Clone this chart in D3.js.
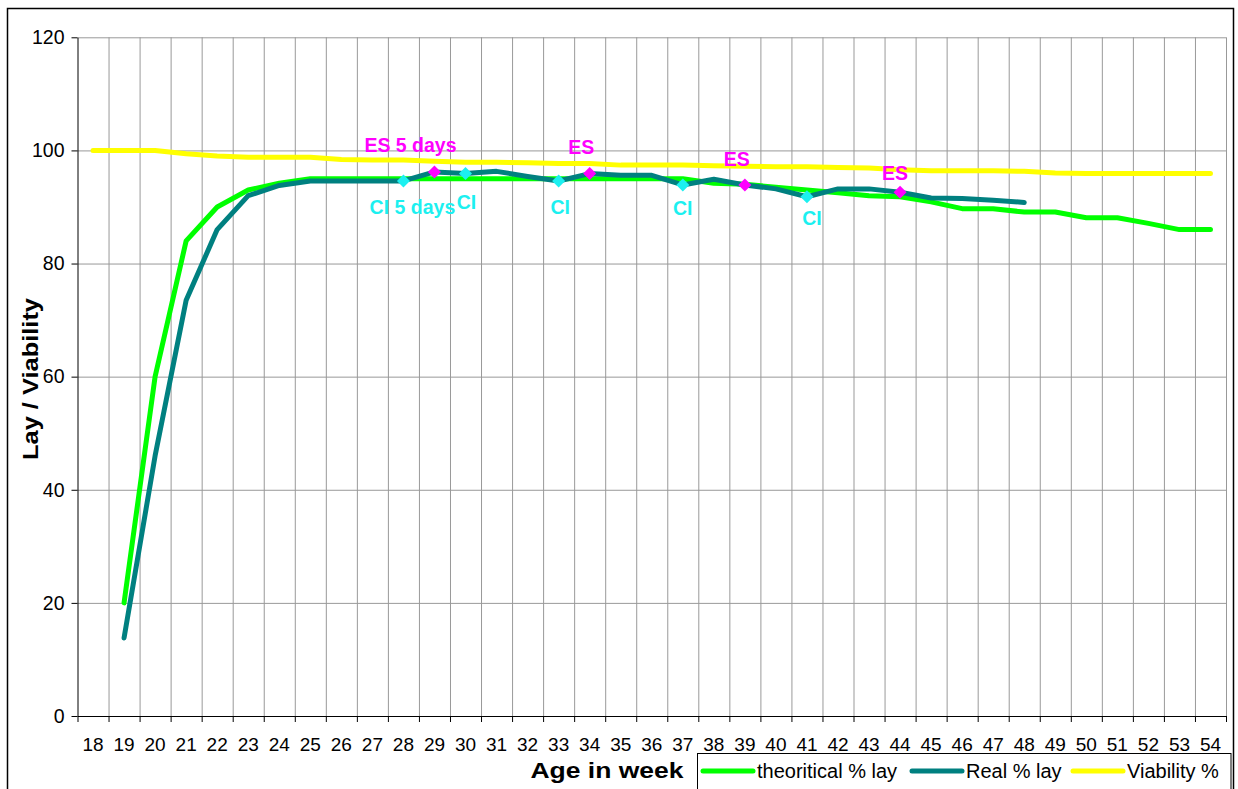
<!DOCTYPE html>
<html>
<head>
<meta charset="utf-8">
<script src="https://cdn.jsdelivr.net/npm/d3@7"></script>
<style>
  html, body { margin: 0; padding: 0; background: #ffffff; }
  svg { display: block; }
  text { font-family: "Liberation Sans", Arial, sans-serif; }
</style>
</head>
<body>
<svg id="chart" width="1238" height="789"></svg>
<script>
// ---------- data ----------
const weeks = ["18","19","20","21","22","23","24","25","26","27","28","29","30","31","32","33","34","35","36",
               "37","38","39","40","41","42","43","44","45","46","47","48","49","50","51","52","53","54"];
const theoretical = [null, 20, 60, 84, 90, 93, 94.2, 95, 95, 95, 95, 95, 95, 95, 95, 95, 95, 95, 95,
                     95, 94.2, 94, 93.5, 93, 92.5, 92, 91.8, 90.9, 89.7, 89.7, 89.1, 89.1, 88.1, 88.1, 87.1, 86.0, 86.0];
const realLay = [null, 13.8, 46, 73.5, 86, 92, 93.8, 94.6, 94.6, 94.6, 94.6, 96.2, 95.9, 96.3, 95.4, 94.6, 95.9, 95.6, 95.6,
                 93.9, 94.9, 93.9, 93.2, 91.8, 93.2, 93.2, 92.6, 91.6, 91.5, 91.2, 90.8, null, null, null, null, null, null];
const viability = [100, 100, 100, 99.4, 99.0, 98.8, 98.8, 98.8, 98.4, 98.3, 98.3, 98.1, 97.9, 97.9, 97.8, 97.7, 97.7, 97.4, 97.4,
                   97.4, 97.3, 97.2, 97.1, 97.1, 97.0, 96.9, 96.6, 96.4, 96.4, 96.4, 96.3, 96.0, 95.9, 95.9, 95.9, 95.9, 95.9];
const ciWeeks  = ["28", "30", "33", "37", "41"];
const ciValues = [94.6, 95.9, 94.6, 93.9, 91.8];
const ciLabels = ["CI 5 days", "CI", "CI", "CI", "CI"];
const esWeeks  = ["29", "34", "39", "44"];
const esValues = [96.2, 95.9, 93.9, 92.6];
const esLabels = ["ES 5 days", "ES", "ES", "ES"];
const yTicks = [0, 20, 40, 60, 80, 100, 120];
const seriesNames = ["theoritical % lay", "Real % lay", "Viability %"];

// ---------- layout / style (not data) ----------
const colors = ["#00FF00", "#008080", "#FFFF00"];
const ciColor = "#1CF0F0", esColor = "#FF00FF";
const ciNudge = [[9, 26], [1, 28], [1.5, 26], [0, 23.5], [5, 21.5]];
const esNudge = [[-24, -26.5], [-8.5, -26.5], [-8, -25.5], [-5, -19.5]];
const plot = { left: 77.5, right: 1226, top: 37.3, bottom: 716 };

const svg = d3.select("#chart");

// outer chart border
svg.append("rect").attr("x", 7.5).attr("y", 8.5).attr("width", 1226).attr("height", 800)
  .attr("fill", "#fff").attr("stroke", "#000").attr("stroke-width", 1.5);

const x = d3.scaleBand().domain(weeks).range([plot.left, plot.right]).padding(0);
const bw = x.bandwidth();
const cx = w => x(w) + bw / 2;
const y = d3.scaleLinear().domain([0, 120]).range([plot.bottom, plot.top]);

// boundaries for vertical gridlines / ticks
const xEdge = d3.scaleLinear().domain([0, weeks.length]).range([plot.left, plot.right]);
const edges = weeks.map((d, i) => i + 1);

// vertical gridlines
svg.append("g").attr("transform", `translate(0,${plot.bottom})`)
  .call(d3.axisBottom(xEdge).tickValues(edges).tickSize(-(plot.bottom - plot.top)).tickFormat(""))
  .call(g => g.select(".domain").remove())
  .call(g => g.selectAll("line").attr("stroke", "#999").attr("stroke-width", 1));

// horizontal gridlines
svg.append("g").attr("transform", `translate(${plot.left},0)`)
  .call(d3.axisLeft(y).tickValues(yTicks.slice(1)).tickSize(-(plot.right - plot.left)).tickFormat(""))
  .call(g => g.select(".domain").remove())
  .call(g => g.selectAll("line").attr("stroke", "#999").attr("stroke-width", 1));

// y axis
svg.append("g").attr("transform", `translate(${plot.left},0)`)
  .call(d3.axisLeft(y).tickValues(yTicks).tickSize(6).tickPadding(7).tickSizeOuter(0))
  .call(g => g.select(".domain").attr("stroke", "#000"))
  .call(g => g.selectAll("line").attr("stroke", "#000"))
  .call(g => g.selectAll("text").attr("font-size", "19.5px").attr("fill", "#000")
     .attr("font-family", "'Liberation Sans', Arial, sans-serif"));

// x axis: tick marks at boundaries
svg.append("g").attr("transform", `translate(0,${plot.bottom})`)
  .call(d3.axisBottom(xEdge).tickValues([0].concat(edges)).tickSize(6).tickFormat("").tickSizeOuter(0))
  .call(g => g.select(".domain").attr("stroke", "#000"))
  .call(g => g.selectAll("line").attr("stroke", "#000"));

// x axis labels centered in bands
svg.append("g").attr("transform", `translate(0,${plot.bottom})`)
  .call(d3.axisBottom(x).tickSize(0).tickPadding(22))
  .call(g => g.select(".domain").remove())
  .call(g => g.selectAll("text").attr("font-size", "19px").attr("fill", "#000")
     .attr("font-family", "'Liberation Sans', Arial, sans-serif"));

// axis titles
svg.append("text").attr("x", 607).attr("y", 778).attr("text-anchor", "middle")
  .attr("font-size", "22px").attr("font-weight", "bold").attr("textLength", 153).attr("lengthAdjust", "spacingAndGlyphs")
  .text("Age in week");
svg.append("text").attr("transform", "translate(38,379) rotate(-90)").attr("text-anchor", "middle")
  .attr("font-size", "22px").attr("font-weight", "bold").attr("textLength", 162).attr("lengthAdjust", "spacingAndGlyphs")
  .text("Lay / Viability");

// lines
const allSeries = [theoretical, realLay, viability];
const line = d3.line()
  .defined(d => d.v !== null)
  .x(d => cx(d.w)).y(d => y(d.v));
allSeries.forEach((vals, i) => {
  const pts = weeks.map((w, j) => ({ w: w, v: vals[j] }));
  svg.append("path").datum(pts)
    .attr("d", line).attr("fill", "none").attr("stroke", colors[i])
    .attr("stroke-width", 5).attr("stroke-linejoin", "round").attr("stroke-linecap", "round");
});

// markers
const diamond = "M0,-6.5L6.5,0L0,6.5L-6.5,0Z";
function markers(ws, vs, labels, nudges, color) {
  ws.forEach((w, i) => {
    svg.append("path").attr("d", diamond)
      .attr("transform", `translate(${cx(w)},${y(vs[i])})`).attr("fill", color);
    svg.append("text").attr("x", cx(w) + nudges[i][0]).attr("y", y(vs[i]) + nudges[i][1])
      .attr("text-anchor", "middle").attr("dominant-baseline", "central")
      .attr("font-size", "19.5px").attr("font-weight", "bold").attr("fill", color)
      .text(labels[i]);
  });
}
markers(ciWeeks, ciValues, ciLabels, ciNudge, ciColor);
markers(esWeeks, esValues, esLabels, esNudge, esColor);

// legend
const lg = svg.append("g");
lg.append("rect").attr("x", 697.5).attr("y", 753.5).attr("width", 533.5).attr("height", 60)
  .attr("fill", "#fff").attr("stroke", "#000").attr("stroke-width", 1);
const legendX = [703, 912, 1073];
seriesNames.forEach((name, i) => {
  lg.append("line").attr("x1", legendX[i]).attr("x2", legendX[i] + 50).attr("y1", 771).attr("y2", 771)
    .attr("stroke", colors[i]).attr("stroke-width", 5).attr("stroke-linecap", "round");
  lg.append("text").attr("x", legendX[i] + 54).attr("y", 771).attr("dominant-baseline", "central")
    .attr("font-size", "20px").attr("fill", "#000").text(name);
});
</script>
</body>
</html>
